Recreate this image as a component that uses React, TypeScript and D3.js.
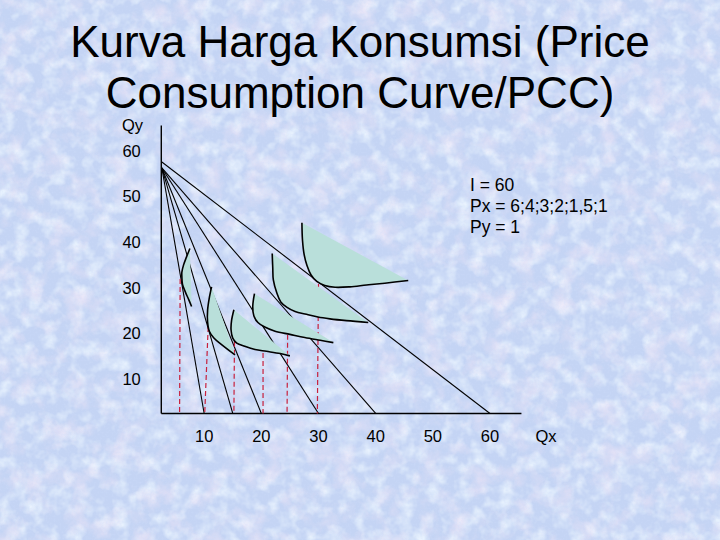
import React from 'react';
import * as d3 from 'd3';

// ---------- data ----------
const TITLE_LINES = ['Kurva Harga Konsumsi (Price', 'Consumption Curve/PCC)'];
const LEGEND_LINES = ['I = 60', 'Px = 6;4;3;2;1,5;1', 'Py = 1'];
const X_TICKS = [10, 20, 30, 40, 50, 60];
const Y_TICKS = [10, 20, 30, 40, 50, 60];

const INCOME = 60;
const PRICE_X = [6, 4, 3, 2, 1.5, 1];
// where each hand-drawn budget line leaves the Qy axis
const BUDGET_START_QX = 2.6;
const BUDGET_TOP_QY = [56.2, 56.2, 56.2, 56.2, 56.2, 57.5];

// drawn axes start slightly inside the value grid
const AXIS_ORIGIN = 2.5;
const AXIS_MAX = 65.5;

// indifference curves [Qx, Qy], one per budget line
const IC_PX6: [number, number][] = [
  [7.5, 38.6], [6.9, 36.7], [6.4, 35.0], [6.1, 33.4], [6.1, 32.4],
  [6.2, 30.8], [6.7, 29.1], [7.3, 27.4], [7.8, 25.9],
];
const IC_PX4: [number, number][] = [
  [11.3, 30.2], [10.9, 27.8], [10.6, 25.1], [10.6, 22.5], [10.9, 20.5],
  [11.7, 19.0], [13.1, 17.5], [15.4, 15.3],
];
const IC_PX3: [number, number][] = [
  [15.2, 25.2], [14.8, 22.9], [14.7, 20.8], [15.0, 19.0], [15.7, 17.9],
  [17.1, 17.2], [18.9, 16.5], [20.9, 16.1], [23.3, 15.6], [25.0, 15.1],
];
const IC_PX2: [number, number][] = [
  [18.8, 28.7], [18.5, 25.9], [18.7, 23.8], [19.4, 22.4], [20.6, 21.4],
  [22.4, 20.5], [25.0, 19.8], [27.6, 19.1], [30.3, 18.5], [32.6, 18.0],
];
const IC_PX15: [number, number][] = [
  [21.9, 37.5], [22.0, 34.3], [22.1, 31.7], [22.7, 28.9], [23.4, 26.9],
  [24.5, 25.7], [25.9, 24.8], [27.9, 24.2], [29.9, 23.6], [32.0, 23.2],
  [34.9, 22.8], [38.7, 22.4],
];
const IC_PX1: [number, number][] = [
  [27.1, 44.2], [27.2, 40.4], [27.5, 37.2], [28.0, 34.8], [28.7, 32.8],
  [29.7, 31.4], [31.1, 30.5], [32.9, 30.1], [35.5, 30.2], [38.4, 30.6],
  [41.6, 31.0], [45.7, 31.6],
];
const INDIFFERENCE_CURVES = [IC_PX6, IC_PX4, IC_PX3, IC_PX2, IC_PX15, IC_PX1];

// red dashed drop lines
const DASH_TOP_QX = [5.8, 10.7, 15.3, 20.3, 24.6, 30.0];
const DASH_TOP_QY = [31.9, 21.4, 18.2, 15.7, 19.7, 30.8];
const DASH_BOTTOM_QX = [5.7, 10.1, 15.2, 20.3, 24.5, 29.8];

// ---------- component ----------
const FONT = '"Liberation Sans", Arial, Helvetica, sans-serif';

export default function App() {
  const W = 720;
  const H = 540;
  const x = d3.scaleLinear().domain([0, 60]).range([147, 490]);
  const y = d3.scaleLinear().domain([0, 60]).range([424.9, 150.6]);

  const curveGen = d3
    .line<[number, number]>()
    .x((d) => x(d[0]))
    .y((d) => y(d[1]))
    .curve(d3.curveCatmullRom.alpha(0.5));

  const x0 = x(AXIS_ORIGIN);
  const y0 = y(AXIS_ORIGIN);

  return (
    <svg
      width={W}
      height={H}
      viewBox={`0 0 ${W} ${H}`}
      style={{ position: 'absolute', left: 0, top: 0, display: 'block' }}
      fontFamily={FONT}
    >
      <defs>
        <filter id="pinkNoise" x="0" y="0" width="100%" height="100%">
          <feTurbulence type="fractalNoise" baseFrequency="0.045" numOctaves="4" seed="7" result="n" />
          <feColorMatrix
            in="n"
            type="matrix"
            values="0 0 0 0 0.90  0 0 0 0 0.80  0 0 0 0 0.93  1.7 0 0 0 -0.78"
          />
        </filter>
        <filter id="lightNoise" x="0" y="0" width="100%" height="100%">
          <feTurbulence type="fractalNoise" baseFrequency="0.07" numOctaves="3" seed="21" result="n" />
          <feColorMatrix
            in="n"
            type="matrix"
            values="0 0 0 0 0.84  0 0 0 0 0.92  0 0 0 0 1.0  0 2.0 0 0 -0.85"
          />
        </filter>
        <filter id="grain" x="0" y="0" width="100%" height="100%">
          <feTurbulence type="fractalNoise" baseFrequency="0.5" numOctaves="2" seed="4" result="n" />
          <feColorMatrix
            in="n"
            type="matrix"
            values="0 0 0 0 0.62  0 0 0 0 0.72  0 0 0 0 0.97  0 0 1.6 0 -0.72"
          />
        </filter>
      </defs>

      {/* textured background */}
      <rect x={0} y={0} width={W} height={H} fill="#c4d4f4" />
      <rect x={0} y={0} width={W} height={H} filter="url(#lightNoise)" />
      <rect x={0} y={0} width={W} height={H} filter="url(#pinkNoise)" opacity={0.8} />
      <rect x={0} y={0} width={W} height={H} filter="url(#grain)" opacity={0.45} />

      {/* title */}
      {TITLE_LINES.map((t, i) => (
        <text key={t} x={360} y={57 + i * 51} textAnchor="middle" fontSize={44} fill="#000">
          {t}
        </text>
      ))}

      {/* axes */}
      <line x1={x0} y1={y(AXIS_MAX)} x2={x0} y2={y0} stroke="#000" strokeWidth={1.4} />
      <line x1={x0} y1={y0} x2={x(AXIS_MAX)} y2={y0} stroke="#000" strokeWidth={1.4} />

      {/* axis labels */}
      <text x={122} y={131} fontSize={16.5} fill="#000">Qy</text>
      <text x={x(60) + 56} y={442} textAnchor="middle" fontSize={16.5} fill="#000">Qx</text>
      {Y_TICKS.map((v) => (
        <text key={'y' + v} x={x0 - 20.5} y={y(v) + 6} textAnchor="end" fontSize={16.5} fill="#000">
          {v}
        </text>
      ))}
      {X_TICKS.map((v) => (
        <text key={'x' + v} x={x(v)} y={442} textAnchor="middle" fontSize={16.5} fill="#000">
          {v}
        </text>
      ))}

      {/* budget lines */}
      {PRICE_X.map((px, i) => (
        <line
          key={'b' + i}
          x1={x(BUDGET_START_QX)}
          y1={y(BUDGET_TOP_QY[i])}
          x2={x(INCOME / px)}
          y2={y0}
          stroke="#000"
          strokeWidth={1.1}
        />
      ))}

      {/* dashed drop lines */}
      {DASH_TOP_QX.map((qx, i) => (
        <line
          key={'d' + i}
          x1={x(qx)}
          y1={y(DASH_TOP_QY[i])}
          x2={x(DASH_BOTTOM_QX[i])}
          y2={y0}
          stroke="#c8203c"
          strokeWidth={1.2}
          strokeDasharray="5,3"
        />
      ))}

      {/* indifference curves */}
      {INDIFFERENCE_CURVES.map((pts, i) => (
        <g key={'ic' + i}>
          <path d={(curveGen(pts) || '') + 'Z'} fill="#b9dfda" stroke="none" />
          <path d={curveGen(pts) || ''} fill="none" stroke="#000" strokeWidth={1.6} />
        </g>
      ))}

      {/* legend */}
      {LEGEND_LINES.map((t, i) => (
        <text key={t} x={470} y={191 + i * 21} fontSize={17.5} fill="#000">
          {t}
        </text>
      ))}
    </svg>
  );
}
